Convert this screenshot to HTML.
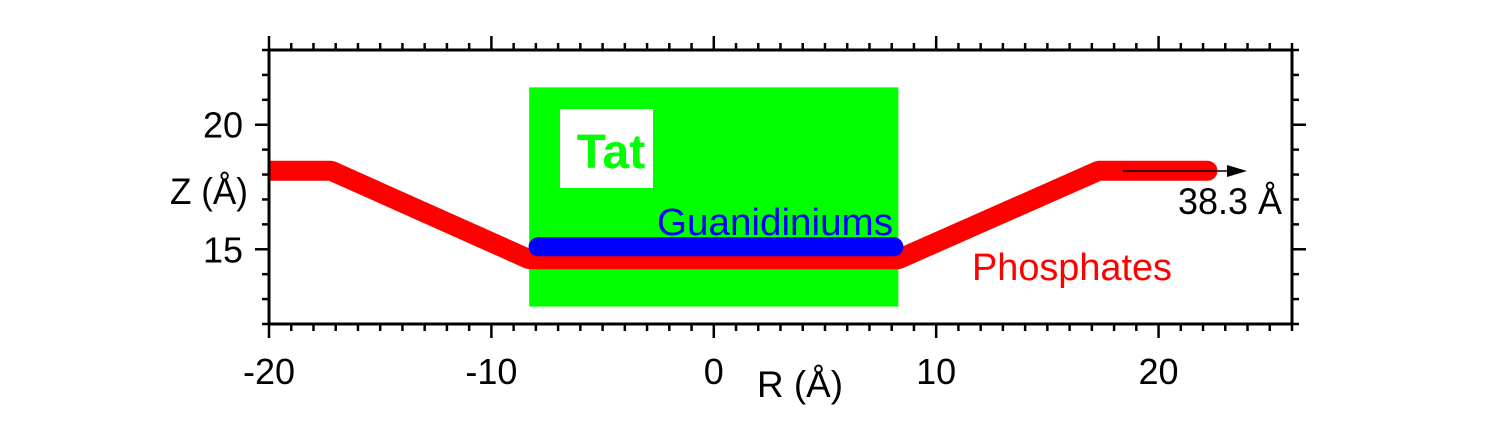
<!DOCTYPE html>
<html><head><meta charset="utf-8"><style>
html,body{margin:0;padding:0;background:#fff;}
svg{display:block;font-family:"Liberation Sans",Arial,sans-serif;}
</style></head><body>
<svg id="chart" width="1502" height="425" viewBox="0 0 1502 425" xmlns="http://www.w3.org/2000/svg">
<g id="plot"></g>
</svg>
<script>
const xTicks = [-20, -10, 0, 10, 20];
const yTicks = [15, 20];
const phosR = [-20, -17.2, -8.3, 8.3, 17.3, 22.2];
const phosZ = [18.15, 18.15, 14.6, 14.6, 18.15, 18.15];
const guanR = [-7.9, 8.1];
const guanZ = [15.1, 15.1];
const tatR = [-8.3, 8.3];
const tatZ = [12.7, 21.5];

const L=269, R=1292, T=50, B=324;
const xMin=-20, xMax=26, yMin=12, yMax=23;
const sx = v => L + (v - xMin) * (R - L) / (xMax - xMin);
const sy = v => B - (v - yMin) * (B - T) / (yMax - yMin);
const NS = "http://www.w3.org/2000/svg";
const g = document.getElementById('plot');
function mk(tag, attrs){const e=document.createElementNS(NS,tag);for(const k in attrs)e.setAttribute(k,attrs[k]);g.appendChild(e);return e;}

const defs = mk('defs',{});
const cp = document.createElementNS(NS,'clipPath'); cp.setAttribute('id','clip');
const cr = document.createElementNS(NS,'rect'); cr.setAttribute('x',L); cr.setAttribute('y',T); cr.setAttribute('width',R-L); cr.setAttribute('height',B-T);
cp.appendChild(cr); defs.appendChild(cp);

const tat = mk('rect',{x:sx(tatR[0]),y:sy(tatZ[1]),width:sx(tatR[1])-sx(tatR[0]),height:sy(tatZ[0])-sy(tatZ[1]),fill:'#00ff00'});


const tb = mk('rect',{x:560,y:109,width:93,height:79,fill:'#fff'});


const tt = mk('text',{x:611,y:168,'font-size':48,'font-weight':'bold',fill:'#00ff00','text-anchor':'middle'});
tt.textContent='Tat';



let d = phosR.map((r,i)=>(i?'L':'M')+sx(r)+' '+sy(phosZ[i])).join(' ');
const ph = mk('path',{d:d,stroke:'#ff0000','stroke-width':20,fill:'none','stroke-linecap':'round','stroke-linejoin':'bevel','clip-path':'url(#clip)'});



const gu = mk('path',{d:'M'+sx(guanR[0])+' '+sy(guanZ[0])+' L'+sx(guanR[1])+' '+sy(guanZ[1]),stroke:'#0000ff','stroke-width':19,'stroke-linecap':'round',fill:'none'});



const ar = mk('line',{x1:1123,y1:171,x2:1232,y2:171,stroke:'#000','stroke-width':1.5});


const ah = mk('polygon',{points:'1247,171 1227,165 1227,177',fill:'#000'});



function txt(x,y,s,fill,size,name,anchor,w){const a={x:x,y:y,'font-size':size,fill:fill,'text-anchor':anchor||'start'};if(w){a.textLength=w;a.lengthAdjust='spacingAndGlyphs';}const e=mk('text',a);e.textContent=s;return e;}
txt(1178,214,'38.3 Å','#000',37,'extent-label','start',104);
txt(657,235,'Guanidiniums','#0000ff',38,'guanidiniums-label','start',236);
txt(972,280,'Phosphates','#ff0000',38,'phosphates-label','start',200);
txt(170,204,'Z (Å)','#000',37,'y-axis-title','start',78);
txt(757,397,'R (Å)','#000',37,'x-axis-title','start',86);

const fr = mk('rect',{x:L,y:T,width:R-L,height:B-T,fill:'none',stroke:'#000','stroke-width':3});



for(let v=xMin; v<=xMax; v++){
  const major = v%10===0;
  const len = major?14:7;
  const x = sx(v);
  const t1 = mk('line',{x1:x,y1:B,x2:x,y2:B+len,stroke:'#000','stroke-width':2.5});
  
  
  const t2 = mk('line',{x1:x,y1:T,x2:x,y2:T-len,stroke:'#000','stroke-width':2.5});
  
  
}
for(let v=yMin; v<=yMax; v++){
  const major = v%5===0;
  const len = major?14:7;
  const y = sy(v);
  const t1 = mk('line',{x1:L,y1:y,x2:L-len,y2:y,stroke:'#000','stroke-width':2.5});
  
  
  const t2 = mk('line',{x1:R,y1:y,x2:R+len,y2:y,stroke:'#000','stroke-width':2.5});
  
  
}
xTicks.forEach(v=>{txt(sx(v),384,String(v),'#000',36,'x-tick-label','middle');});
yTicks.forEach(v=>{txt(243,sy(v)+13,String(v),'#000',36,'y-tick-label','end');});
</script>
</body></html>
